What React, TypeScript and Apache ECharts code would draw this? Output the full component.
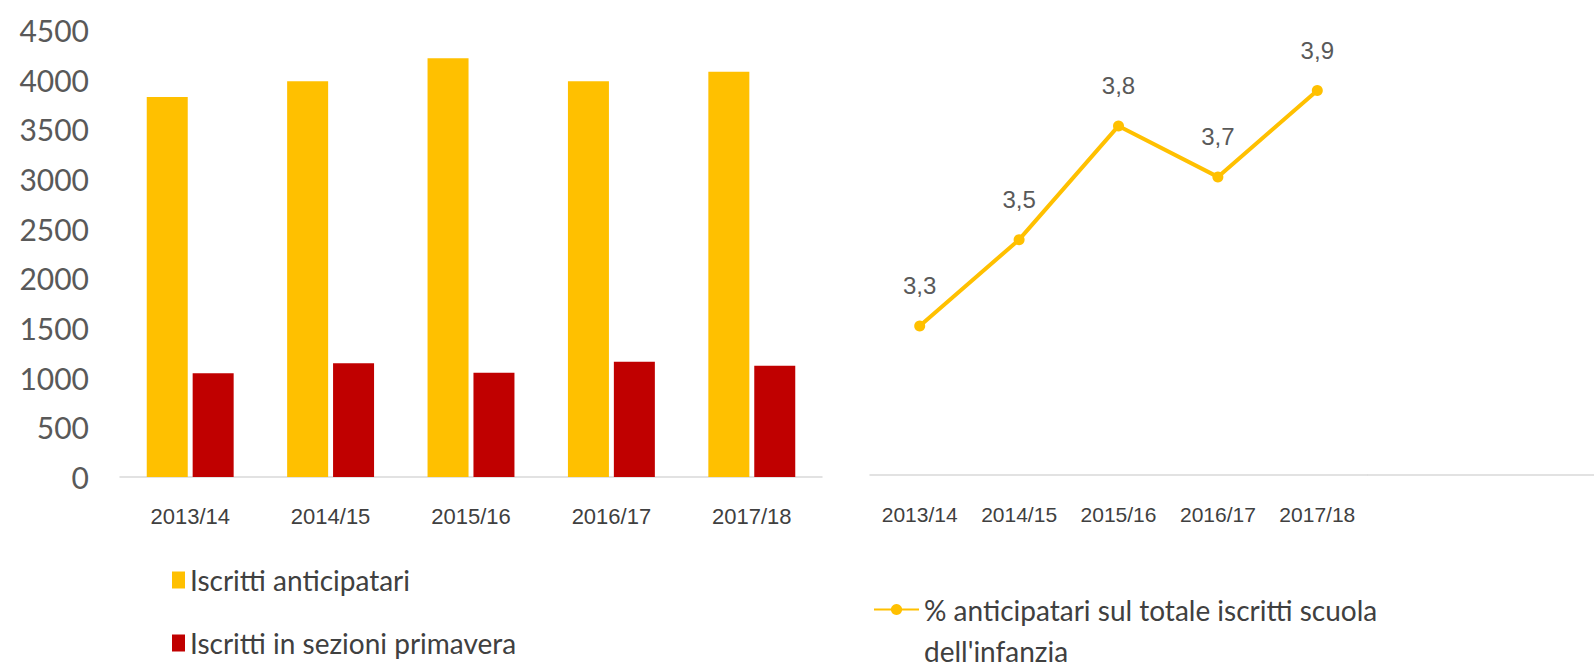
import React, { useEffect, useRef } from "react";
import * as echarts from "echarts";

const categories = ["2013/14", "2014/15", "2015/16", "2016/17", "2017/18"];
const anticipatari = [3825, 3985, 4215, 3985, 4080];
const primavera = [1045, 1145, 1050, 1160, 1120];
const percentuale = [3.3, 3.52, 3.81, 3.68, 3.9];
const yTicks = { min: 0, max: 4500, interval: 500 };

const YELLOW = "#FFC000";
const RED = "#C00000";

export default function App() {
  const ref = useRef<HTMLDivElement>(null);
  useEffect(() => {
    if (!ref.current) return;
    const chart = echarts.init(ref.current, null, { renderer: "svg" });
    chart.setOption({
      animation: false,
      backgroundColor: "#ffffff",
      grid: [
        { left: 120, top: 30, width: 702, height: 447 },
        { left: 870, top: 20, width: 497, height: 455 },
      ],
      xAxis: [
        {
          type: "category",
          gridIndex: 0,
          data: categories,
          axisLine: { show: true, lineStyle: { color: "#d9d9d9", width: 1.5 } },
          axisTick: { show: false },
          axisLabel: { margin: 28, fontSize: 22, color: "#404040", fontFamily: "Liberation Sans" },
        },
        {
          type: "category",
          gridIndex: 1,
          data: categories,
          axisLine: { show: true, lineStyle: { color: "#d9d9d9", width: 1.5 } },
          axisTick: { show: false },
          axisLabel: { margin: 29, fontSize: 21, color: "#404040", fontFamily: "Liberation Sans" },
        },
      ],
      yAxis: [
        {
          type: "value",
          gridIndex: 0,
          min: yTicks.min,
          max: yTicks.max,
          interval: yTicks.interval,
          axisLine: { show: false },
          axisTick: { show: false },
          splitLine: { show: false },
          axisLabel: {
            margin: 31,
            fontSize: 30,
            color: "#595959",
            fontFamily: "Lato",
            formatter: (v: number) => String(v),
          },
        },
        {
          type: "value",
          gridIndex: 1,
          min: 2.92,
          max: 4.08,
          show: false,
          splitLine: { show: false },
        },
      ],
      legend: [
        {
          data: ["Iscritti anticipatari", "Iscritti in sezioni primavera"],
          orient: "vertical",
          left: 167,
          top: 560,
          itemGap: 33,
          itemWidth: 13,
          itemHeight: 17,
          icon: "rect",
          textStyle: { fontSize: 28, lineHeight: 30, color: "#404040", fontFamily: "Lato" },
        },
        {
          data: ["% anticipatari sul totale iscritti scuola dell'infanzia"],
          left: 868,
          top: 543,
          itemWidth: 45,
          itemHeight: 14,
          formatter: () => "\n% anticipatari sul totale iscritti scuola\ndell'infanzia",
          textStyle: {
            fontSize: 28,
            lineHeight: 41,
            color: "#404040",
            fontFamily: "Lato",
          },
        },
      ],
      graphic: [
        {
          type: "line",
          shape: { x1: 1367, y1: 475, x2: 1594, y2: 475 },
          style: { stroke: "#d9d9d9", lineWidth: 1.5 },
        },
      ],
      series: [
        {
          name: "Iscritti anticipatari",
          type: "bar",
          xAxisIndex: 0,
          yAxisIndex: 0,
          data: anticipatari,
          barWidth: 41,
          barGap: "12%",
          itemStyle: { color: YELLOW },
        },
        {
          name: "Iscritti in sezioni primavera",
          type: "bar",
          xAxisIndex: 0,
          yAxisIndex: 0,
          data: primavera,
          barWidth: 41,
          barGap: "12%",
          itemStyle: { color: RED },
        },
        {
          name: "% anticipatari sul totale iscritti scuola dell'infanzia",
          type: "line",
          xAxisIndex: 1,
          yAxisIndex: 1,
          data: percentuale,
          symbol: "circle",
          symbolSize: 11,
          lineStyle: { color: YELLOW, width: 4 },
          itemStyle: { color: YELLOW },
          label: {
            show: true,
            position: "top",
            distance: 23,
            fontSize: 24,
            color: "#595959",
            fontFamily: "Liberation Sans",
            formatter: (p: any) => Number(p.value).toFixed(1).replace(".", ","),
          },
        },
      ],
    });
    return () => chart.dispose();
  }, []);
  return (
    <div
      ref={ref}
      style={{ position: "fixed", left: 0, top: 0, width: 1594, height: 669 }}
    />
  );
}
